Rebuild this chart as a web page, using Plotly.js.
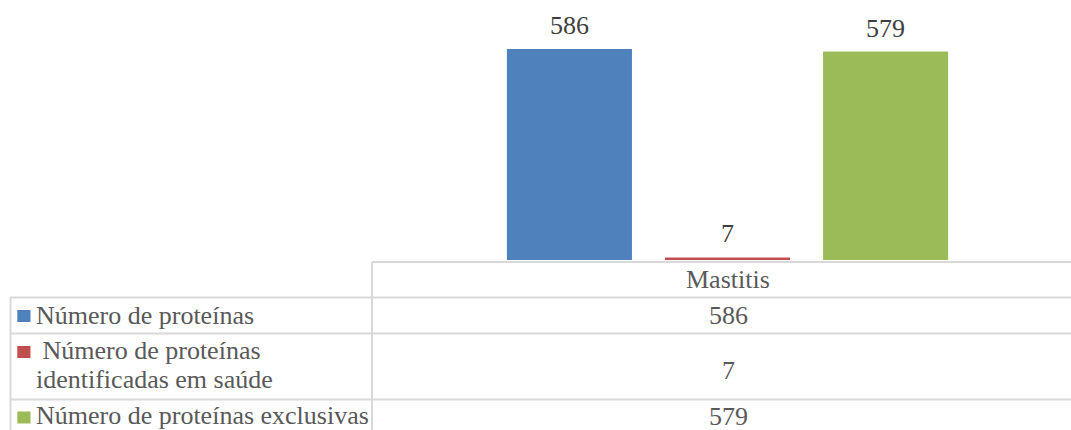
<!DOCTYPE html>
<html>
<head>
<meta charset="utf-8">
<script src="https://cdn.plot.ly/plotly-3.0.1.min.js"></script>
<style>
  html, body { margin: 0; padding: 0; background: #ffffff; }
  #chart { width: 1071px; height: 430px; }
</style>
</head>
<body>
<div id="chart"></div>
<script>
// Protein counts for the mastitis group
const categories = ['Mastitis'];
const seriesNames = [
  'Número de proteínas',
  ' Número de proteínas<br>identificadas em saúde',
  'Número de proteínas exclusivas'
];
const proteinCount = [586];
const healthIdentified = [7];
const exclusiveCount = [579];
const seriesValues = [proteinCount, healthIdentified, exclusiveCount];
const seriesColors = ['#4F81BD', '#C0504D', '#9BBB59'];

// Figure geometry (pixels)
const W = 1071, H = 430;
const plotLeft = 372, plotRight = 1071, plotTop = 8, plotBottom = 260;
const tableLeft = 10;
const rowLines = [262, 297.5, 333.5, 399.5];   // horizontal rules of the data table
const lineColor = '#d9d9d9';
const font = 'Liberation Serif, Times New Roman, serif';
const fontSize = 26;
const tableText = '#595959';
const labelText = '#404040';
const slot = 158;            // pixel distance between bar centres in a group

const px = p => (p - plotLeft) / (plotRight - plotLeft);
const py = p => (plotBottom - p) / (plotBottom - plotTop);

const traces = seriesValues.map((vals, i) => ({
  type: 'bar',
  name: seriesNames[i],
  x: categories,
  y: vals,
  marker: { color: seriesColors[i] },
  hoverinfo: 'skip'
}));

const shapes = [];
const annotations = [];
const hline = (y, x0, x1) => shapes.push({
  type: 'line', xref: 'paper', yref: 'paper',
  x0: px(x0), x1: px(x1), y0: py(y), y1: py(y),
  line: { color: lineColor, width: 2 }
});
const vline = (x, y0, y1) => shapes.push({
  type: 'line', xref: 'paper', yref: 'paper',
  x0: px(x), x1: px(x), y0: py(y0), y1: py(y1),
  line: { color: lineColor, width: 2 }
});

// Value labels above each bar
seriesValues.forEach((vals, i) => {
  vals.forEach((v, j) => annotations.push({
    xref: 'x', yref: 'y', x: categories[j], y: v,
    xshift: (i - 1) * slot, yshift: 7,
    xanchor: 'center', yanchor: 'bottom', showarrow: false,
    text: String(v), font: { family: font, size: fontSize, color: labelText }
  }));
});

// Table rules
hline(rowLines[0], plotLeft, W);
for (let r = 1; r < 4; r++) hline(rowLines[r], tableLeft, W);
vline(tableLeft + 0.5, rowLines[1], H + 5);
vline(plotLeft, rowLines[0], H + 5);

const colCenter = 728;
const text = (x, y, s, anchor) => annotations.push({
  xref: 'paper', yref: 'paper', x: px(x), y: py(y),
  xanchor: anchor, yanchor: 'middle', align: 'left', showarrow: false,
  text: s, font: { family: font, size: fontSize, color: tableText }
});

// Category header
categories.forEach(c => text(colCenter, 279, c, 'center'));

// Rows: legend key, series name (one annotation per line), value
const keyCentres = [316, 352, 417.5];
const lineCentres = [[315.5], [350, 379.5], [415.5]];
const valueCentres = [315.7, 370, 416.5];
seriesNames.forEach((name, i) => {
  shapes.push({
    type: 'rect', xref: 'paper', yref: 'paper',
    x0: px(17.3), x1: px(30.5), y0: py(keyCentres[i] - 6), y1: py(keyCentres[i] + 6),
    fillcolor: seriesColors[i], line: { width: 0 }
  });
  name.split('<br>').forEach((line, k) => text(34, lineCentres[i][k], line, 'left'));
  text(colCenter, valueCentres[i], String(seriesValues[i][0]), 'center');
});

const layout = {
  width: W, height: H,
  margin: { l: plotLeft, r: W - plotRight, t: plotTop, b: H - plotBottom, pad: 0 },
  paper_bgcolor: '#ffffff', plot_bgcolor: '#ffffff',
  barmode: 'group', bargap: 0.333, bargroupgap: 0.209,
  showlegend: false,
  xaxis: { type: 'category', range: [-0.5, 0.4831], visible: false, fixedrange: true },
  yaxis: { range: [0, 700], visible: false, fixedrange: true },
  shapes, annotations,
  font: { family: font, color: tableText }
};

Plotly.newPlot('chart', traces, layout, { displayModeBar: false, staticPlot: true });
</script>
</body>
</html>
